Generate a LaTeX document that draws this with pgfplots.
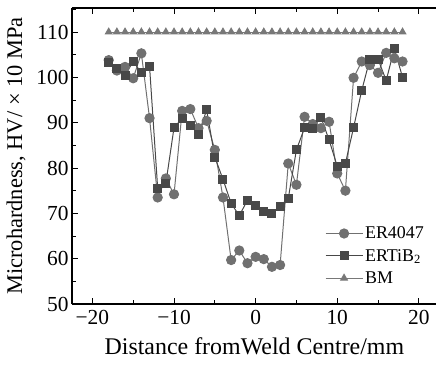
\documentclass[border=0pt]{standalone}
\usepackage{pgfplots}
\pgfplotsset{compat=1.18}
\usepackage{fontspec}
\setmainfont{Liberation Serif}
\definecolor{cA}{RGB}{112,112,112}
\definecolor{cB}{RGB}{72,72,72}
\definecolor{cC}{RGB}{120,120,120}
\begin{document}
\begin{tikzpicture}
\begin{axis}[
  name=ax,
  scale only axis,
  width=364.8bp, height=296bp,
  xmin=-22.5, xmax=22.2, ymin=50, ymax=115.3,
  axis x line*=box, axis y line*=left,
  x axis line style={-}, y axis line style={-},
  axis line style={line width=1.1pt},
  tick align=inside,
  xtick={-20,-10,0,10,20},
  xticklabels={−20,−10,0,10,20},
  minor xtick={-15,-5,5,15},
  ytick={50,60,...,110},
  minor ytick={55,65,...,115},
  major tick length=6bp, minor tick length=4bp,
  tick style={line width=0.9pt, black},
  /pgf/number format/assume math mode=true,
  tick label style={font=\fontsize{21.5}{24}\selectfont},
  xticklabel style={yshift=-3bp},
  xlabel={Distance fromWeld Centre/mm},
  ylabel={Microhardness, HV/ × 10 MPa},
  xlabel style={font=\fontsize{24}{27}\selectfont, yshift=-6bp},
  ylabel style={font=\fontsize{22.5}{25}\selectfont, yshift=4bp},
  legend style={draw=none, fill=none, font=\fontsize{18}{20}\selectfont,
    at={(rel axis cs:0.685,0.275)}, anchor=north west, row sep=5bp,
    /tikz/every even column/.append style={column sep=2bp}},
  legend cell align=left,
  legend image code/.code={\draw[mark repeat=2,mark phase=2] plot coordinates {(0bp,0bp)(18.5bp,0bp)(37bp,0bp)};},
]
\addplot[color=cA, line width=1pt, mark=*, mark size=4.6bp, mark options={fill=cA, draw=cA}] coordinates {
(-18,103.8)(-17,101.5)(-16,102.3)(-15,99.8)(-14,105.3)(-13,91.0)(-12,73.5)(-11,77.7)(-10,74.2)
(-9,92.6)(-8,93.0)(-7,88.8)(-6,90.4)(-5,84.0)(-4,73.5)(-3,59.7)(-2,61.8)(-1,59.0)(0,60.4)
(1,59.9)(2,58.2)(3,58.6)(4,81.0)(5,76.3)(6,91.3)(7,89.7)(8,88.8)(9,90.2)(10,78.8)(11,75.0)
(12,99.9)(13,103.5)(14,102.7)(15,101.0)(16,105.4)(17,104.2)(18,103.5)};
\addlegendentry{ER4047}
\addplot[color=cB, line width=1pt, mark=square*, mark size=4bp, mark options={fill=cB, draw=cB}] coordinates {
(-18,103.2)(-17,102.0)(-16,100.5)(-15,103.5)(-14,101.0)(-13,102.5)(-12,75.5)(-11,76.6)(-10,88.9)
(-9,91.0)(-8,89.3)(-7,87.5)(-6,92.8)(-5,82.4)(-4,77.5)(-3,72.2)(-2,69.5)(-1,72.9)(0,71.8)
(1,70.4)(2,69.9)(3,71.6)(4,73.3)(5,84.0)(6,88.9)(7,88.8)(8,91.2)(9,86.2)(10,80.4)(11,81.0)
(12,88.9)(13,97.1)(14,104.0)(15,104.0)(16,99.3)(17,106.4)(18,100.0)};
\addlegendentry{ERTiB\textsubscript{2}}
\addplot[color=cC, line width=1pt, mark=triangle*, mark size=3.8bp, mark options={fill=cC, draw=cC}] coordinates {
(-18,110)(-17,110)(-16,110)(-15,110)(-14,110)(-13,110)(-12,110)(-11,110)(-10,110)
(-9,110)(-8,110)(-7,110)(-6,110)(-5,110)(-4,110)(-3,110)(-2,110)(-1,110)(0,110)
(1,110)(2,110)(3,110)(4,110)(5,110)(6,110)(7,110)(8,110)(9,110)(10,110)(11,110)
(12,110)(13,110)(14,110)(15,110)(16,110)(17,110)(18,110)};
\addlegendentry{BM}
\end{axis}
\pgfresetboundingbox
\path ([xshift=-72bp,yshift=-65bp]ax.south west) rectangle ++(436bp,369bp);
\end{tikzpicture}
\end{document}
